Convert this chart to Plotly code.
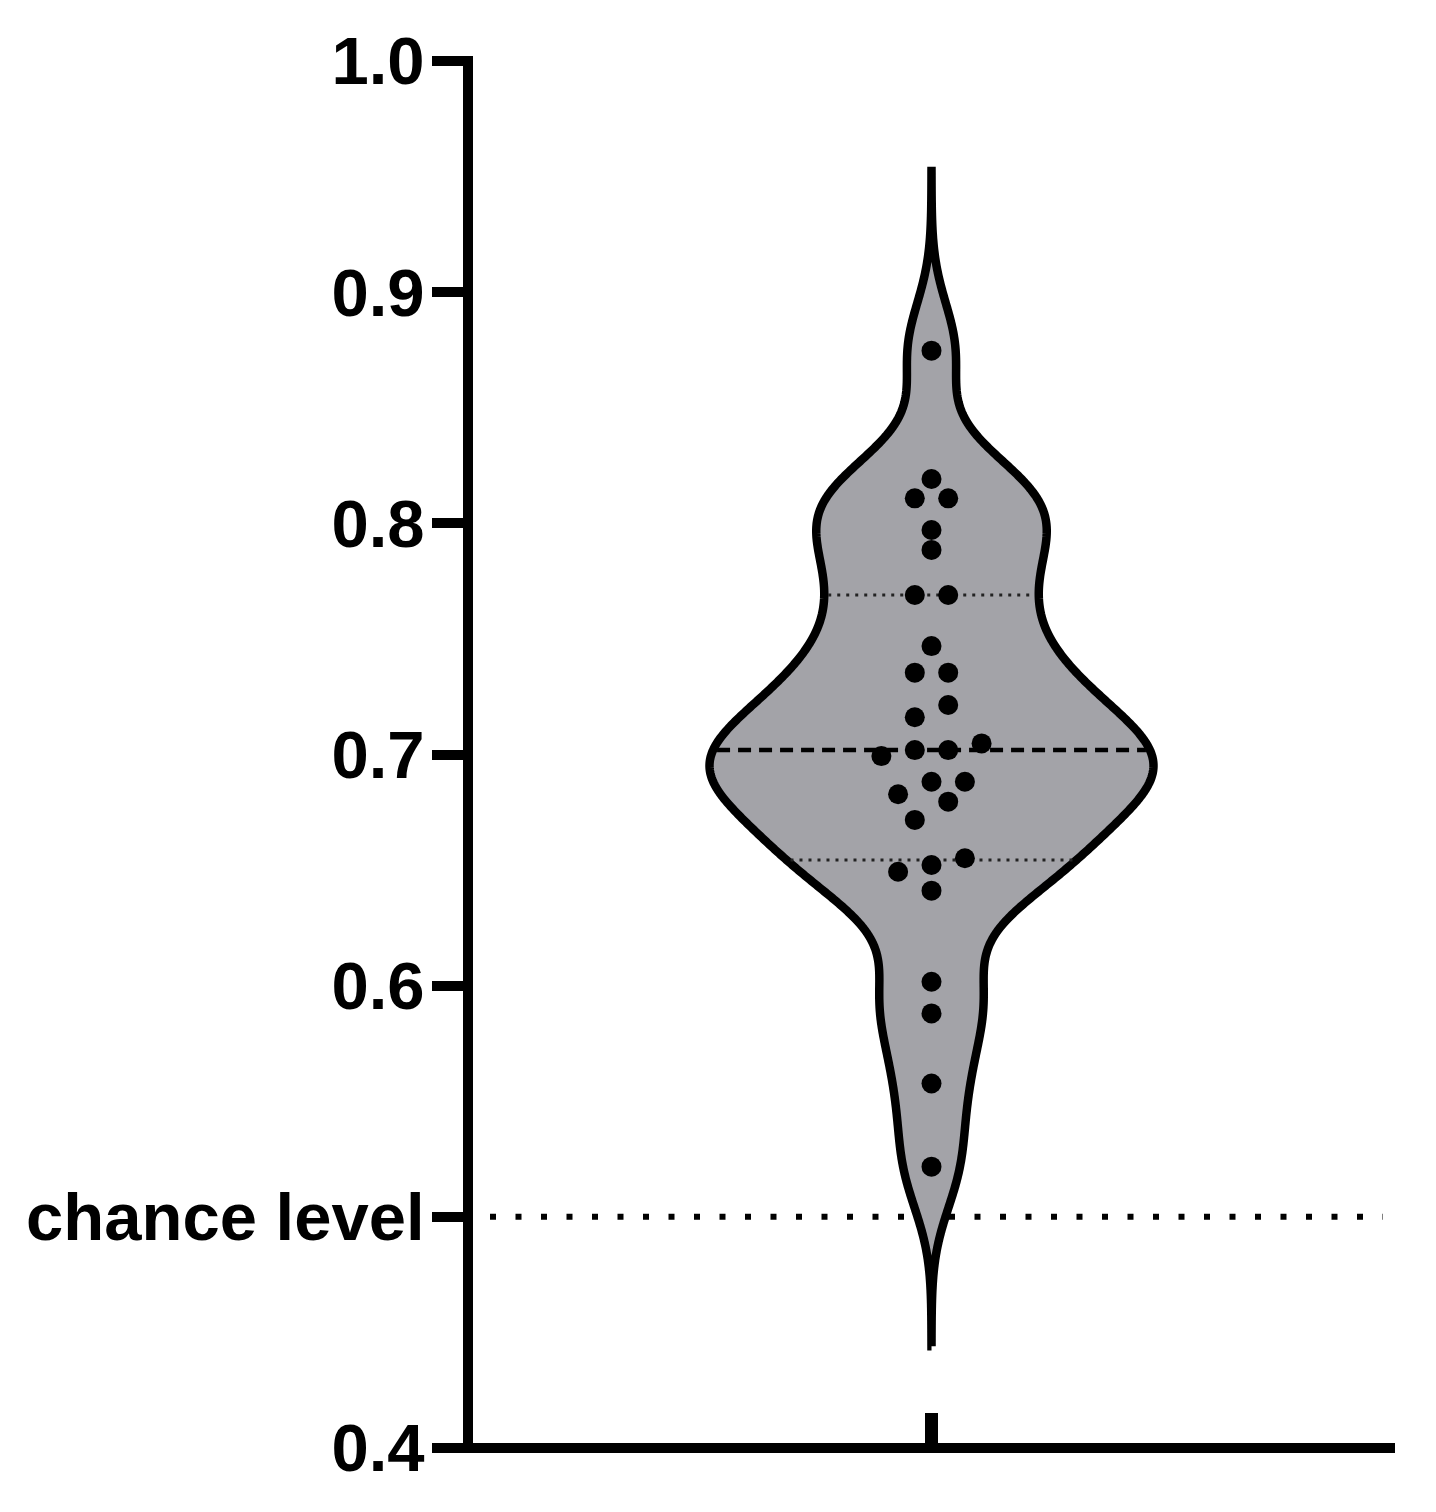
import numpy as np
import plotly.graph_objects as go

# ---------------- data ----------------
values = [0.8747, 0.8192, 0.8108, 0.8108, 0.7971, 0.7885, 0.7690, 0.7690,
          0.7469, 0.7354, 0.7354, 0.7214, 0.7161, 0.7019, 0.6993, 0.7019, 0.7048,
          0.6882, 0.6882, 0.6796, 0.6828, 0.6717, 0.6551, 0.6522, 0.6493, 0.6411,
          0.6017, 0.5880, 0.5577, 0.5217]
chance_level = 0.5
tick_vals = [0.4, 0.5, 0.6, 0.7, 0.8, 0.9, 1.0]
tick_text = ["0.4", "chance level", "0.6", "0.7", "0.8", "0.9", "1.0"]

# ---------------- layout constants ----------------
BODY = 8  # default page margin of the html body
W, H = 1436 - BODY, 1512 - BODY
ML, MR, MT, MB = 468 - BODY, 41, 61 - BODY, 64
plot_w = W - ML - MR
plot_h = H - MT - MB
X_RANGE = [-1.0, 1.0]
Y_RANGE = [0.4, 1.0]
px_per_x = plot_w / (X_RANGE[1] - X_RANGE[0])
px_per_y = plot_h / (Y_RANGE[1] - Y_RANGE[0])
AXIS_LW = 10

vals = np.array(values, dtype=float)

# ---------------- kernel density (violin outline) ----------------
bw = 0.021
cut = 3.7 * bw
grid = np.linspace(vals.min() - cut, vals.max() + cut, 900)
dens = np.exp(-0.5 * ((grid[:, None] - vals[None, :]) / bw) ** 2).sum(axis=1)
max_half_px = 222
half = dens / dens.max() * (max_half_px / px_per_x)

vx = np.concatenate([half, -half[::-1], [half[0]]])
vy = np.concatenate([grid, grid[::-1], [grid[0]]])

# quartiles (Prism-style (n+1)p)
q1, med, q3 = np.percentile(vals, [25, 50, 75], method="weibull")


def half_at(v):
    return float(np.interp(v, grid, half))


# ---------------- beeswarm offsets ----------------
bin_h = 0.008
slot = 16.7 / px_per_x
order = np.argsort(vals)
xoff = np.zeros_like(vals)
bins = []
cur = [order[0]]
for idx in order[1:]:
    if vals[idx] - vals[cur[0]] < bin_h:
        cur.append(idx)
    else:
        bins.append(cur)
        cur = [idx]
bins.append(cur)
for b in bins:
    n = len(b)
    for i, idx in enumerate(b):
        xoff[idx] = (2 * i - (n - 1)) * slot

fig = go.Figure()

# chance level dotted line (behind the violin)
x0 = X_RANGE[0] + 22 / px_per_x
x1 = X_RANGE[1] - 12 / px_per_x
fig.add_trace(go.Scatter(
    x=[x0, x1], y=[chance_level, chance_level], mode="lines",
    line=dict(color="black", width=6, dash="6px,19.5px"),
    hoverinfo="skip", showlegend=False))

# violin body
fig.add_trace(go.Scatter(
    x=vx, y=vy, mode="lines", fill="toself", fillcolor="#a3a3a8",
    line=dict(color="black", width=8.5, simplify=False),
    hoverinfo="skip", showlegend=False))

# quartile lines (dotted)
for q in (q1, q3):
    w = half_at(q) - 4 / px_per_x
    fig.add_trace(go.Scatter(
        x=[-w, w], y=[q, q], mode="lines",
        line=dict(color="#222222", width=3, dash="3px,6px"),
        hoverinfo="skip", showlegend=False))

# median line (dashed)
wm = half_at(med) - 4 / px_per_x
fig.add_trace(go.Scatter(
    x=[-wm, wm], y=[med, med], mode="lines",
    line=dict(color="black", width=4.5, dash="13px,8px"),
    hoverinfo="skip", showlegend=False))

# data points
fig.add_trace(go.Scatter(
    x=xoff, y=vals, mode="markers",
    marker=dict(color="black", size=20, line=dict(width=0)),
    hoverinfo="skip", showlegend=False))

# axis lines centred on the plot-area edges
ext_x = (AXIS_LW / 2) / plot_w
ext_y = (AXIS_LW / 2) / plot_h
fig.add_shape(type="line", xref="paper", yref="paper",
              x0=0, x1=0, y0=-ext_y, y1=1 + ext_y,
              line=dict(color="black", width=AXIS_LW))
fig.add_shape(type="line", xref="paper", yref="paper",
              x0=-ext_x, x1=1, y0=0, y1=0,
              line=dict(color="black", width=AXIS_LW))

fig.update_layout(
    width=W, height=H,
    margin=dict(l=ML, r=MR, t=MT, b=MB, pad=0),
    paper_bgcolor="white", plot_bgcolor="white",
    font=dict(family="Liberation Sans, Arial, sans-serif", color="black"),
    showlegend=False,
)
fig.update_xaxes(
    range=X_RANGE, showgrid=False, zeroline=False, showline=False,
    ticks="inside", tickvals=[0], ticklen=35, tickwidth=13, tickcolor="black",
    showticklabels=False, fixedrange=True,
)
fig.update_yaxes(
    range=Y_RANGE, showgrid=False, zeroline=False, showline=False,
    ticks="outside", ticklen=35, tickwidth=10, tickcolor="black",
    tickvals=tick_vals, ticktext=tick_text,
    tickfont=dict(size=67, weight="bold", family="Liberation Sans, Arial, sans-serif"),
    ticklabelstandoff=-6, fixedrange=True,
)

fig.write_html("out.html")
